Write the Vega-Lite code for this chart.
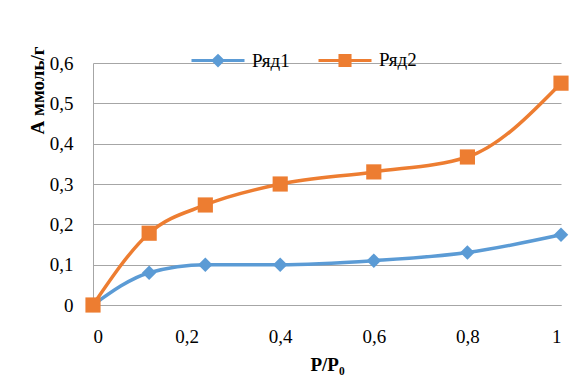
{
  "$schema": "https://vega.github.io/schema/vega-lite/v6.json",
  "width": 468,
  "height": 242,
  "autosize": {"type": "none"},
  "padding": {"left": 93, "top": 63, "right": 23, "bottom": 76},
  "background": "white",
  "data": {
    "values": [
      {"p": 0, "a": 0, "series": "Ряд1"},
      {"p": 0.12, "a": 0.08, "series": "Ряд1"},
      {"p": 0.24, "a": 0.1, "series": "Ряд1"},
      {"p": 0.4, "a": 0.1, "series": "Ряд1"},
      {"p": 0.6, "a": 0.11, "series": "Ряд1"},
      {"p": 0.8, "a": 0.13, "series": "Ряд1"},
      {"p": 1, "a": 0.174, "series": "Ряд1"},
      {"p": 0, "a": 0, "series": "Ряд2"},
      {"p": 0.12, "a": 0.178, "series": "Ряд2"},
      {"p": 0.24, "a": 0.248, "series": "Ряд2"},
      {"p": 0.4, "a": 0.3, "series": "Ряд2"},
      {"p": 0.6, "a": 0.33, "series": "Ряд2"},
      {"p": 0.8, "a": 0.367, "series": "Ряд2"},
      {"p": 1, "a": 0.55, "series": "Ряд2"}
    ]
  },
  "config": {
    "font": "Liberation Serif",
    "view": {"stroke": null},
    "axis": {
      "labelFont": "Liberation Serif",
      "labelFontSize": 19,
      "labelColor": "#000000",
      "titleFont": "Liberation Serif",
      "titleColor": "#000000",
      "titleFontWeight": "bold",
      "titleFontSize": 19,
      "domainColor": "#A6A6A6",
      "domainWidth": 1,
      "gridColor": "#A6A6A6",
      "gridWidth": 1,
      "ticks": false,
      "tickSize": 0
    }
  },
  "encoding": {
    "x": {
      "field": "p",
      "type": "quantitative",
      "scale": {"domain": [0, 1], "nice": false},
      "axis": {
        "values": [0, 0.2, 0.4, 0.6, 0.8, 1],
        "grid": false,
        "labelExpr": "replace(format(datum.value, '~g'), '.', ',')",
        "labelBaseline": "alphabetic",
        "labelPadding": 37,
        "title": "P/P₀",
        "titleBaseline": "alphabetic",
        "titleY": 65
      }
    },
    "y": {
      "field": "a",
      "type": "quantitative",
      "scale": {"domain": [0, 0.6], "nice": false},
      "axis": {
        "values": [0, 0.1, 0.2, 0.3, 0.4, 0.5, 0.6],
        "grid": true,
        "labelExpr": "replace(format(datum.value, '~g'), '.', ',')",
        "labelPadding": 20,
        "title": "А ммоль/г",
        "titleAngle": -90,
        "titleAlign": "center",
        "titleBaseline": "middle",
        "titleX": -56,
        "titleY": 27
      }
    }
  },
  "layer": [
    {
      "mark": {"type": "line", "interpolate": "monotone", "strokeWidth": 3.5},
      "encoding": {
        "color": {
          "field": "series",
          "type": "nominal",
          "scale": {"domain": ["Ряд1", "Ряд2"], "range": ["#5B9BD5", "#ED7D31"]},
          "legend": null
        }
      }
    },
    {
      "mark": {"type": "point", "filled": true, "opacity": 1},
      "encoding": {
        "color": {
          "field": "series",
          "type": "nominal",
          "scale": {"domain": ["Ряд1", "Ряд2"], "range": ["#5B9BD5", "#ED7D31"]},
          "legend": null
        },
        "shape": {
          "field": "series",
          "type": "nominal",
          "scale": {"domain": ["Ряд1", "Ряд2"], "range": ["diamond", "square"]},
          "legend": null
        },
        "size": {
          "field": "series",
          "type": "nominal",
          "scale": {"domain": ["Ряд1", "Ряд2"], "range": [210, 230]},
          "legend": null
        }
      }
    },
    {
      "transform": [{"filter": "false"}],
      "mark": {"type": "point", "filled": true, "opacity": 1, "strokeWidth": 3},
      "encoding": {
        "fill": {
          "field": "series",
          "type": "nominal",
          "scale": {"domain": ["Ряд1", "Ряд2"], "range": ["#5B9BD5", "#ED7D31"]},
          "legend": {}
        },
        "stroke": {
          "field": "series",
          "type": "nominal",
          "scale": {"domain": ["Ряд1", "Ряд2"], "range": ["#5B9BD5", "#ED7D31"]},
          "legend": {}
        },
        "shape": {
          "field": "series",
          "type": "nominal",
          "scale": {
            "domain": ["Ряд1", "Ряд2"],
            "range": [
              "M-1,0H1M0,-0.18L0.18,0L0,0.18L-0.18,0Z",
              "M-1,0H1M-0.19,-0.19H0.19V0.19H-0.19Z"
            ]
          },
          "legend": {
            "orient": "none",
            "legendX": 97,
            "legendY": -31,
            "direction": "horizontal",
            "title": null,
            "labelFont": "Liberation Serif",
            "labelFontSize": 19,
            "labelColor": "#000000",
            "symbolSize": 2809,
            "symbolStrokeWidth": 3,
            "symbolOpacity": 1,
            "columnPadding": 22,
            "labelOffset": 6
          }
        }
      }
    }
  ],
  "resolve": {
    "scale": {"shape": "independent", "size": "independent", "fill": "independent", "stroke": "independent"},
    "legend": {"shape": "independent", "fill": "independent", "stroke": "independent"}
  }
}
